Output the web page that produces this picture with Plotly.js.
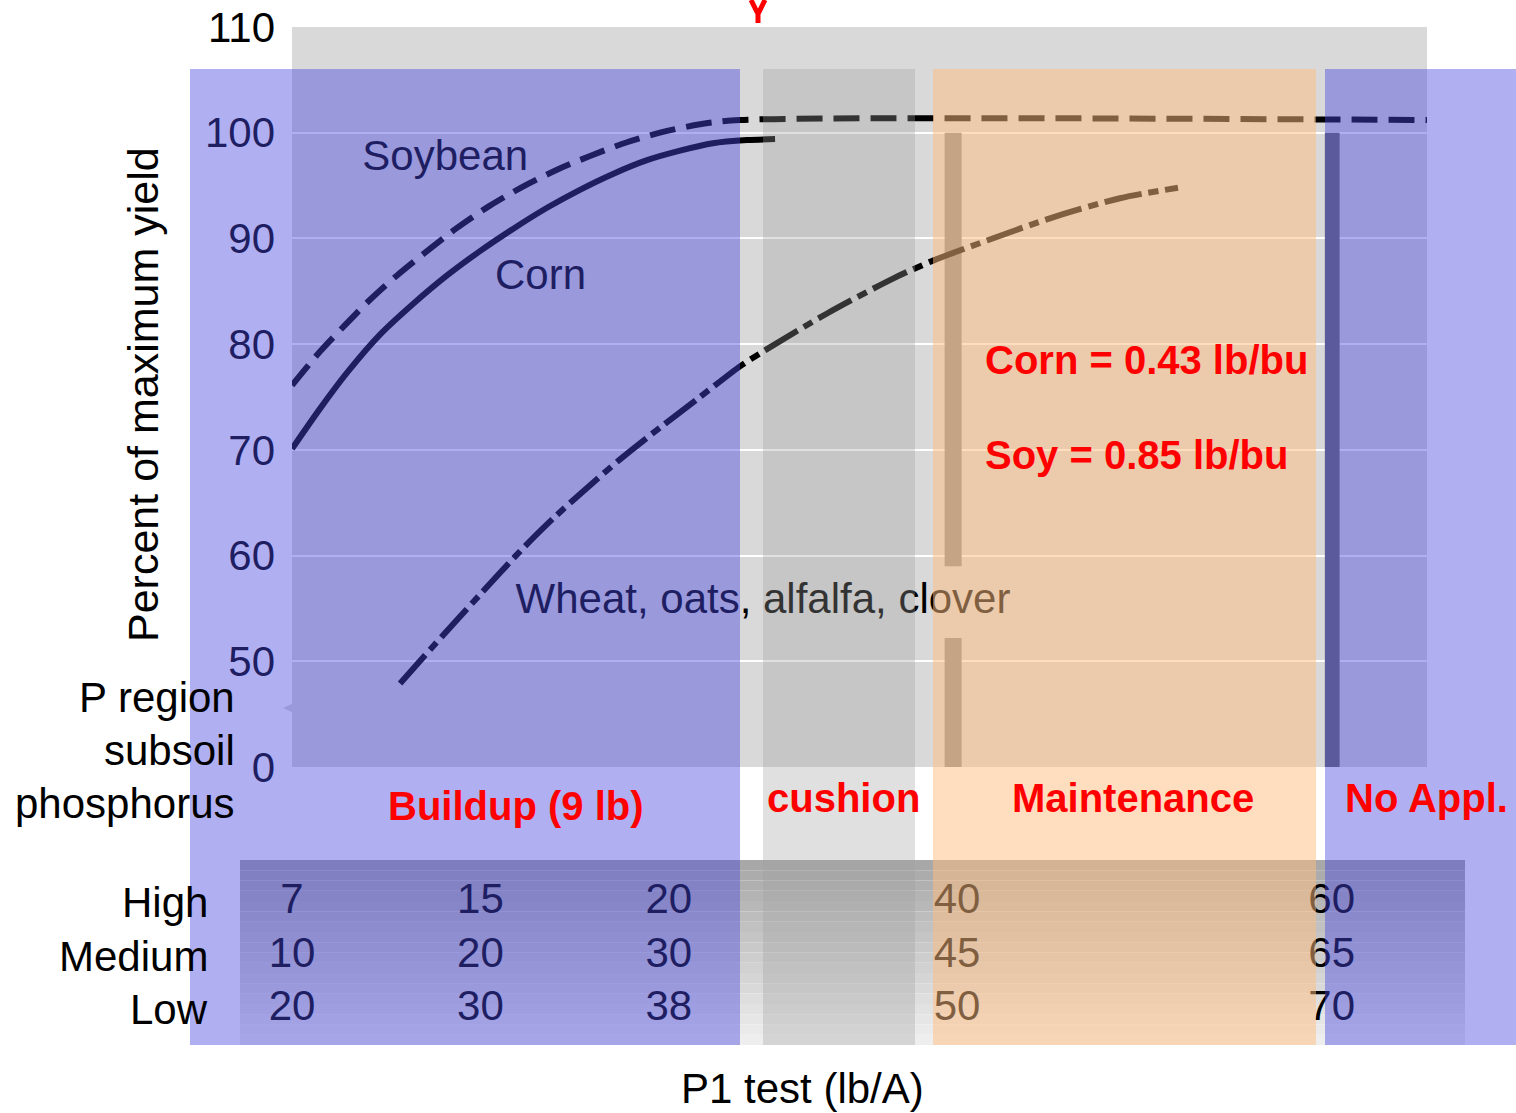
<!DOCTYPE html>
<html>
<head>
<meta charset="utf-8">
<script src="https://cdn.plot.ly/plotly-3.0.1.min.js"></script>
<style>html,body{margin:0;padding:0;background:#fff;}#chart{width:1516px;height:1113px;}</style>
</head>
<body>
<div id="chart"></div>
<script>
// ---- data ----
// x: position along the P1 test scale (0 = left edge of chart area, 100 = right edge)
const cornX = [0, 2.47, 4.85, 7.75, 10.66, 13.66, 16.56, 19.47, 22.47, 25.37, 28.28, 31.28, 34.19, 37.09, 40.09, 42.56];
const cornY = [70.1, 73.9, 77.3, 80.9, 83.8, 86.5, 88.8, 90.9, 92.9, 94.6, 96.1, 97.4, 98.3, 99.0, 99.3, 99.4];
const soyX = [0, 2.47, 4.67, 6.87, 9.25, 11.89, 14.54, 17.44, 20.35, 23.35, 26.26, 29.52, 32.42, 35.95, 39.47, 100];
const soyY = [76.1, 79.3, 81.8, 84.2, 86.5, 88.8, 91.0, 93.1, 94.9, 96.5, 97.8, 99.1, 100.0, 100.8, 101.2, 101.2];
const wheatX = [9.52, 12.16, 16.56, 20.09, 23.0, 25.99, 28.90, 32.42, 35.95, 39.47, 41.5, 47.14, 52.95, 56.48, 61.23, 67.05, 72.95, 78.06];
const wheatY = [47.9, 51.1, 56.3, 60.4, 63.5, 66.4, 69.1, 72.1, 75.0, 77.9, 79.3, 82.9, 86.2, 87.9, 89.8, 92.0, 93.8, 94.8];

// y axis (broken axis: bottom tick shows 0)
const yTickVals = [40, 50, 60, 70, 80, 90, 100, 110];
const yTickText = ['0', '50', '60', '70', '80', '90', '100', '110'];

// P1 test table by subsoil phosphorus region
const rowNames = ['High', 'Medium', 'Low'];
const colPos = [0, 16.6, 33.2, 58.6, 91.6];
const highP = [7, 15, 20, 40, 60];
const mediumP = [10, 20, 30, 45, 65];
const lowP = [20, 30, 38, 50, 70];

// curve labels
const labelText = ['Soybean', 'Corn', 'Wheat, oats, alfalfa, clover'];
const labelX = [13.5, 21.9, 41.5];
const labelY = [97.5, 86.2, 55.6];

// ---- layout helpers ----
const W = 1516, H = 1113;
const px = v => v / W;
const py = v => 1 - v / H;
const FONT = 'Liberation Sans, Arial, sans-serif';

const lineStyle = (dash) => ({color: '#000', width: 6, dash: dash, shape: 'spline', smoothing: 0.8});

const traces = [
  {x: soyX, y: soyY, mode: 'lines', line: lineStyle('26px,11px'), hoverinfo: 'skip'},
  {x: cornX, y: cornY, mode: 'lines', line: lineStyle('solid'), hoverinfo: 'skip'},
  {x: wheatX, y: wheatY, mode: 'lines', line: lineStyle('38px,7px,10px,7px'), hoverinfo: 'skip'},
  {x: labelX, y: labelY, text: labelText, mode: 'text', textposition: 'middle center',
   textfont: {family: FONT, size: 42, color: '#000'}, hoverinfo: 'skip', cliponaxis: false}
];
const tableRows = [highP, mediumP, lowP];
tableRows.forEach((vals, i) => {
  traces.push({
    x: colPos, y: vals.map(() => rowNames[i]), text: vals.map(String),
    mode: 'text', textposition: 'middle center', xaxis: 'x', yaxis: 'y2',
    textfont: {family: FONT, size: 42, color: '#000'}, hoverinfo: 'skip', cliponaxis: false
  });
});

const shapes = [];
// grey chart background
shapes.push({type: 'rect', xref: 'x', yref: 'y', x0: 0, x1: 100, y0: 40, y1: 110,
  fillcolor: '#d9d9d9', line: {width: 0}, layer: 'below'});
// small notch at the left edge
shapes.push({type: 'path', xref: 'paper', yref: 'paper',
  path: `M ${px(283)},${py(708)} L ${px(300)},${py(700)} L ${px(300)},${py(716)} Z`,
  fillcolor: '#d9d9d9', line: {width: 0}, layer: 'below'});
// table band gradient
const nStrips = 18;
for (let i = 0; i < nStrips; i++) {
  const y0 = 860 + (1045 - 860) * i / nStrips;
  const y1 = 860 + (1045 - 860) * (i + 1) / nStrips;
  const g = Math.round(168 + (238 - 168) * i / (nStrips - 1));
  shapes.push({type: 'rect', xref: 'paper', yref: 'paper', x0: px(240), x1: px(1465), y0: py(y1), y1: py(y0),
    fillcolor: `rgb(${g},${g},${g})`, line: {width: 0}, layer: 'below'});
}
// vertical markers
shapes.push({type: 'rect', xref: 'x', yref: 'y', x0: 91.0, x1: 92.3, y0: 40, y1: 100,
  fillcolor: '#6a6a6a', line: {width: 0}, layer: 'between'});
shapes.push({type: 'rect', xref: 'x', yref: 'y', x0: 57.5, x1: 59.0, y0: 59.0, y1: 100,
  fillcolor: '#8a8a8a', line: {width: 0}, layer: 'between'});
shapes.push({type: 'rect', xref: 'x', yref: 'y', x0: 57.5, x1: 59.0, y0: 40, y1: 52.2,
  fillcolor: '#8a8a8a', line: {width: 0}, layer: 'between'});
// translucent recommendation zones
const zones = [
  [190, 740, 'rgba(70,70,225,0.43)'],
  [763, 915, 'rgba(160,160,160,0.32)'],
  [933, 1316, 'rgba(255,190,130,0.5)'],
  [1325, 1516, 'rgba(70,70,225,0.43)']
];
zones.forEach(z => shapes.push({type: 'rect', xref: 'paper', yref: 'paper', x0: px(z[0]), x1: px(z[1]),
  y0: py(1045), y1: py(69), fillcolor: z[2], line: {width: 0}, layer: 'above'}));
// red pointer at top
shapes.push({type: 'path', xref: 'paper', yref: 'paper',
  path: `M ${px(751)},${py(0)} L ${px(758)},${py(14)} L ${px(765)},${py(0)} M ${px(758)},${py(14)} L ${px(758)},${py(23)}`,
  line: {color: '#ff0000', width: 5}, layer: 'above'});

const ann = (x, y, text, opt) => Object.assign({xref: 'paper', yref: 'paper', x: px(x), y: py(y), text: text,
  showarrow: false, xanchor: 'center', yanchor: 'middle', font: {family: FONT, size: 42, color: '#000'}}, opt || {});
const red = {font: {family: FONT, size: 40, color: '#ff0000'}};

const annotations = [
  ann(143, 395, 'Percent of maximum yield', {textangle: -90, font: {family: FONT, size: 43, color: '#000'}}),
  ann(803, 1088, 'P1 test (lb/A)'),
  ann(237, 697, 'P region', {xanchor: 'right'}),
  ann(237, 750, 'subsoil', {xanchor: 'right'}),
  ann(237, 803, 'phosphorus', {xanchor: 'right'}),
  ann(516, 806, '<b>Buildup (9 lb)</b>', red),
  ann(843, 798, '<b>cushion</b>', red),
  ann(1133, 798, '<b>Maintenance</b>', red),
  ann(1426, 798, '<b>No Appl.</b>', red),
  ann(983, 360, '<b>Corn = 0.43 lb/bu</b>', Object.assign({xanchor: 'left'}, red)),
  ann(983, 455, '<b>Soy = 0.85 lb/bu</b>', Object.assign({xanchor: 'left'}, red))
];
rowNames.forEach(r => annotations.push({xref: 'paper', yref: 'y2', x: px(210), y: r, text: r,
  showarrow: false, xanchor: 'right', yanchor: 'middle', font: {family: FONT, size: 42, color: '#000'}}));

const layout = {
  width: W, height: H,
  margin: {l: 0, r: 0, t: 0, b: 0, pad: 0},
  paper_bgcolor: '#ffffff', plot_bgcolor: 'rgba(0,0,0,0)',
  showlegend: false,
  font: {family: FONT},
  xaxis: {domain: [px(292), px(1427)], range: [0, 100], showgrid: false, zeroline: false,
    showticklabels: false, showline: false, ticks: '', fixedrange: true},
  yaxis: {domain: [py(767), py(27)], range: [40, 110], tickvals: yTickVals, ticktext: yTickText,
    showgrid: true, gridcolor: '#ffffff', gridwidth: 2, zeroline: false, showline: false, ticks: '',
    ticklabelstandoff: 16, tickfont: {family: FONT, size: 42, color: '#000'}, fixedrange: true},
  yaxis2: {domain: [py(1036), py(876)], type: 'category', categoryorder: 'array',
    categoryarray: ['Low', 'Medium', 'High'], range: [-0.5, 2.5], showgrid: false, zeroline: false,
    showticklabels: false, showline: false, ticks: '', anchor: 'x', fixedrange: true},
  shapes: shapes,
  annotations: annotations
};

Plotly.newPlot('chart', traces, layout, {displayModeBar: false, staticPlot: true});
</script>
</body>
</html>
